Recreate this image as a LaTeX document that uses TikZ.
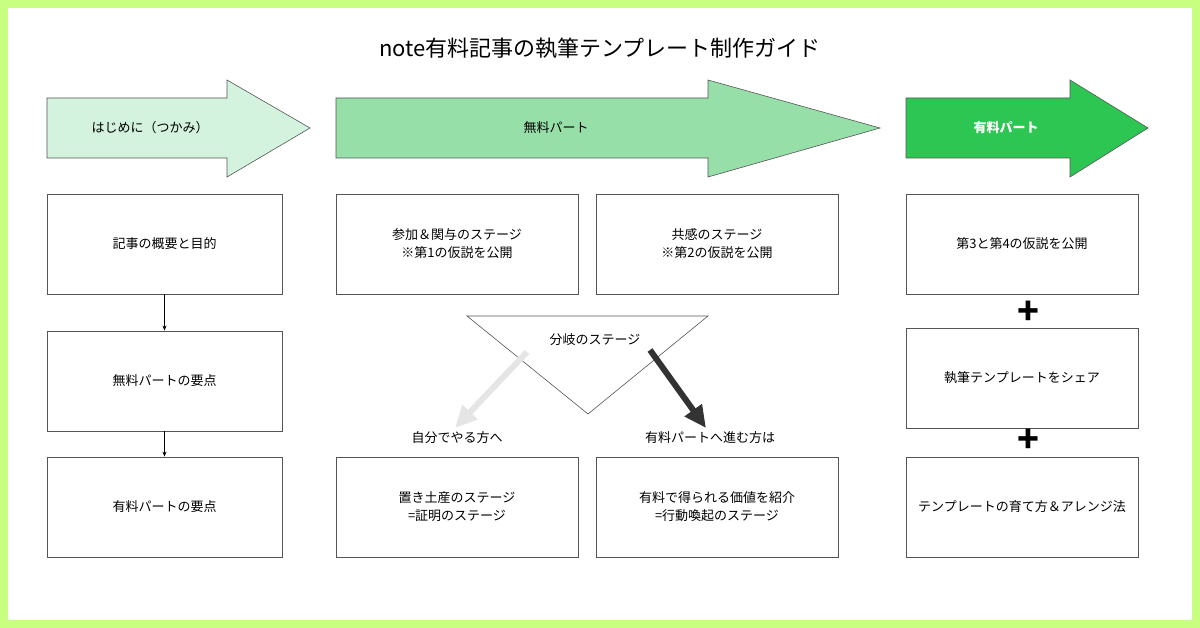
\documentclass[tikz,border=0pt]{standalone}
\usepackage{fontspec}
\setmainfont{Noto Sans CJK JP}
\usetikzlibrary{arrows.meta}
\definecolor{frame}{HTML}{C8FF80}
\definecolor{a1}{HTML}{D4F3DE}
\definecolor{a2}{HTML}{96DFA8}
\definecolor{a3}{HTML}{2DC653}
\definecolor{ln}{HTML}{555555}
\begin{document}
\begin{tikzpicture}[x=1pt,y=-1pt,
  box/.style={draw=ln,line width=0.8pt,fill=white,minimum width=#1,minimum height=100pt,align=center,font=\fontsize{13}{18}\selectfont,inner sep=0pt},
  lbl/.style={font=\fontsize{13}{16}\selectfont},
  fat/.style={draw=ln,line width=0.6pt}]
\fill[frame] (0,0) rectangle (1200,628);
\fill[white] (8,8) rectangle (1192,620);
\useasboundingbox (0,0) rectangle (1200,628);
\node[font=\fontsize{22}{25}\selectfont] (title) at (600,48) {note有料記事の執筆テンプレート制作ガイド};
% fat arrows
\filldraw[fat,fill=a1] (47,98)--(227,98)--(227,80)--(310,128)--(227,177)--(227,158)--(47,158)--cycle;
\node[lbl] (h1) at (150,128) {はじめに（つかみ）};
\filldraw[fat,fill=a2] (336,98)--(708,98)--(708,80)--(880,128)--(708,177)--(708,158)--(336,158)--cycle;
\node[lbl] (h2) at (556,128) {無料パート};
\filldraw[fat,fill=a3] (906,98)--(1070,98)--(1070,80)--(1148,128)--(1070,177)--(1070,158)--(906,158)--cycle;
\node[lbl,text=white,font=\fontsize{13}{16}\selectfont\bfseries] (h3) at (1006,128) {有料パート};
% col1
\node[box=235pt] (c11) at (164.5,244) {記事の概要と目的};
\node[box=235pt] (c12) at (164.5,381) {無料パートの要点};
\node[box=235pt] (c13) at (164.5,507) {有料パートの要点};
\draw[-{Stealth[length=5pt,width=4pt]},black,line width=0.6pt] (c11)--(c12);
\draw[-{Stealth[length=5pt,width=4pt]},black,line width=0.6pt] (c12)--(c13);
% col2/3
\node[box=242pt] (c21) at (457,244) {参加＆関与のステージ\\※第1の仮説を公開};
\node[box=242pt] (c31) at (717,244) {共感のステージ\\※第2の仮説を公開};
\node[box=242pt] (c22) at (457,507) {置き土産のステージ\\=証明のステージ};
\node[box=242pt] (c32) at (717,507) {有料で得られる価値を紹介\\=行動喚起のステージ};
% triangle
\draw[ln,line width=0.6pt,fill=white] (467,316)--(708,316)--(588,414)--cycle;
\node[lbl] (br) at (595,340) {分岐のステージ};
\coordinate (s1) at (527,352); \coordinate (e1) at (455,428);
\coordinate (s2) at (650,350); \coordinate (e2) at (706,428);
\draw[line width=6pt,color=black!10,-{Triangle[length=22pt,width=20pt]}] (s1)--(e1);
\draw[line width=6pt,color=black!80,-{Triangle[length=22pt,width=20pt]}] (s2)--(e2);
\node[lbl] (l1) at (457,438) {自分でやる方へ};
\node[lbl] (l2) at (710,438) {有料パートへ進む方は};
% col4
\node[box=232pt] (c41) at (1022,244) {第3と第4の仮説を公開};
\node[box=232pt] (c42) at (1022,378) {執筆テンプレートをシェア};
\node[box=232pt] (c43) at (1022,507) {テンプレートの育て方＆アレンジ法};
\node[font=\fontsize{36}{36}\selectfont\bfseries] (p1) at (1028,313) {+};
\node[font=\fontsize{36}{36}\selectfont\bfseries] (p2) at (1028,441) {+};
\end{tikzpicture}
\end{document}
